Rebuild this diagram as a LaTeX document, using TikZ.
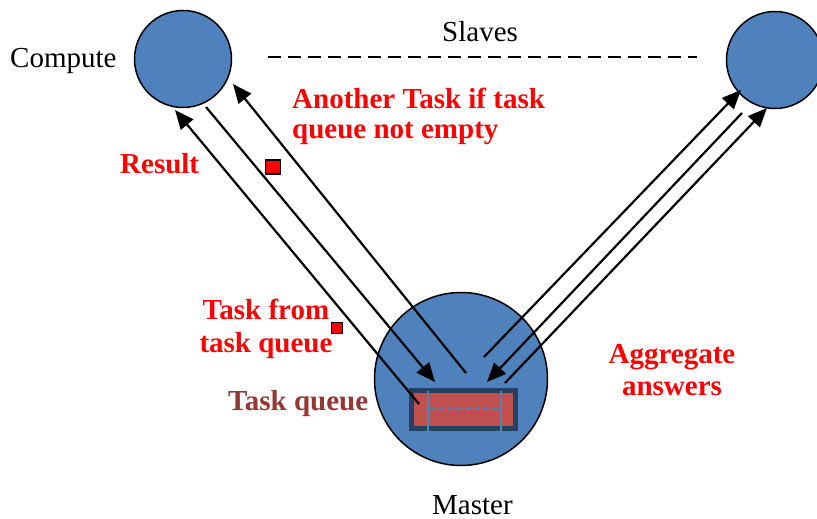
\documentclass[tikz,border=0pt]{standalone}
\usepackage{fontspec}
\setmainfont{Liberation Serif}
\usetikzlibrary{arrows.meta}
\definecolor{nodeblue}{HTML}{4F81BD}
\definecolor{queuered}{HTML}{C0504D}
\definecolor{queueedge}{HTML}{254061}
\definecolor{queuetext}{HTML}{953735}
\definecolor{labelred}{HTML}{FF0000}
\tikzset{
  proc/.style={circle, draw=black, line width=1.5pt, fill=nodeblue, inner sep=0pt},
  plain/.style={inner sep=0pt, font=\fontsize{29}{31}\selectfont},
  note/.style={inner sep=0pt, text=labelred, font=\fontsize{29}{31}\selectfont\bfseries},
  msg/.style={line width=2.2pt, -{Triangle[length=19pt,width=16pt]}},
  token/.style={draw=black, line width=1.5pt, fill=labelred, inner sep=0pt},
}
\begin{document}
\begin{tikzpicture}[x=1pt, y=-1pt]
\useasboundingbox (0,0) rectangle (817,519);

% worker and master processes
\node[proc, minimum size=97pt] (slaveL) at (183,59) {};
\node[proc, minimum size=97pt] (slaveR) at (775,60) {};
\node[proc, minimum size=173pt] (master) at (461,379) {};

% task queue inside the master
\node[draw=queueedge, line width=5pt, fill=queuered, minimum width=104pt, minimum height=38pt, inner sep=0pt] (queue) at (463.5,409.5) {};
\draw[nodeblue, line width=2.5pt] (428,391) -- (428,431);
\draw[nodeblue, line width=2.5pt] (501,391) -- (501,431);
\draw[nodeblue, line width=2.5pt, dash pattern=on 6pt off 3pt] (429,409) -- (500,409);

% row of further slaves
\coordinate (rowA) at (268,57);
\coordinate (rowB) at (697,57);
\draw[line width=2pt, dash pattern=on 13pt off 7pt] (rowA) -- (rowB);

% message end points
\coordinate (resFrom) at (419,404);
\coordinate (resTo) at (175,110);
\coordinate (taskFrom) at (206,107);
\coordinate (taskTo) at (435,382);
\coordinate (nextFrom) at (466,373);
\coordinate (nextTo) at (233,84);
\coordinate (rA) at (484,357);
\coordinate (rAto) at (741,90);
\coordinate (rB) at (742,113);
\coordinate (rBto) at (487,382);
\coordinate (rC) at (505,383);
\coordinate (rCto) at (767,108);

\draw[msg] (resFrom) -- (resTo);
\draw[msg] (taskFrom) -- (taskTo);
\draw[msg] (nextFrom) -- (nextTo);
\draw[msg] (rA) -- (rAto);
\draw[msg] (rB) -- (rBto);
\draw[msg] (rC) -- (rCto);

% tokens travelling along the messages
\node[token, minimum width=15pt, minimum height=14pt] (tokResult) at (273,167) {};
\node[token, minimum size=11pt] (tokTask) at (337,328) {};

% labels
\node[plain, anchor=base west] (lblCompute) at (10,67) {Compute};
\node[plain, anchor=base west] (lblSlaves) at (442,42) {Slaves};
\node[plain, anchor=base west, text depth=0pt] (lblMaster) at (432,514) {Master};
\node[note, anchor=base west] (lblResult) at (120,173) {Result};
\node[note, anchor=base west, align=left, font=\fontsize{29}{30}\selectfont\bfseries] (lblNext) at (292,138) {Another Task if task\\queue not empty};
\node[note, anchor=base, align=center, font=\fontsize{29}{33}\selectfont\bfseries] (lblTask) at (266,352) {Task from\\task queue};
\node[note, anchor=base, align=center, font=\fontsize{29}{32}\selectfont\bfseries] (lblAgg) at (672,395) {Aggregate\\answers};
\node[note, text=queuetext, anchor=base west] (lblQueue) at (228,410) {Task queue};
\end{tikzpicture}
\end{document}
